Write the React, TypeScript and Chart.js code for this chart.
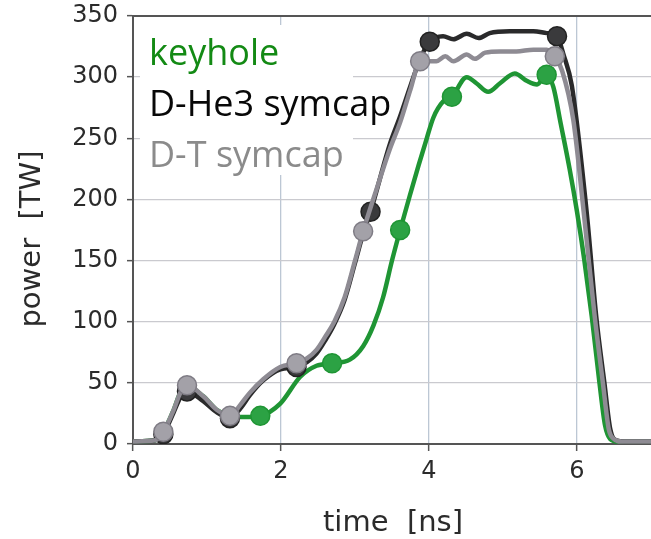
import React, { useEffect, useRef } from "react";
import { Chart, registerables } from "chart.js";

Chart.register(...registerables);

// Laser pulse shapes: time [ns] vs. power [TW]

const keyholeTime = [
  0, 0.3, 0.41, 0.55, 0.64, 0.73, 0.95, 1.13, 1.31, 1.5, 1.72, 1.99, 2.26, 2.48, 2.69, 2.93,
  3.11, 3.25, 3.38, 3.5, 3.61, 3.74, 3.86, 3.97, 4.06, 4.19, 4.31, 4.51, 4.64, 4.8, 4.96,
  5.16, 5.32, 5.46, 5.59, 5.68, 5.78, 5.9, 6.0, 6.1, 6.2, 6.3, 6.38, 6.45, 6.55, 7.0,
];
const keyholePower = [
  2, 3, 10, 28, 42, 47, 39, 28, 23, 22, 23, 33, 55, 64, 66, 69,
  80, 97, 120, 150, 175, 203, 228, 250, 267, 280, 284, 300, 295, 288, 295,
  303, 297, 294, 302, 292, 262, 225, 190, 150, 104, 52, 15, 4, 2, 2,
];
const keyholeMarkers = [1.72, 2.69, 3.61, 4.31, 5.59];

const dhe3Time = [
  0, 0.3, 0.41, 0.55, 0.64, 0.73, 0.95, 1.13, 1.31, 1.45, 1.58, 1.76, 1.99, 2.21, 2.35, 2.48,
  2.6, 2.72, 2.86, 3.0, 3.11, 3.21, 3.47, 3.61, 3.75, 3.88, 4.01, 4.19, 4.33, 4.51, 4.67,
  4.82, 5.09, 5.41, 5.59, 5.73, 5.82, 5.93, 6.13, 6.26, 6.37, 6.45, 6.53, 6.65, 7.0,
];
const dhe3Power = [
  2, 3, 8, 26, 38, 43, 35, 26, 21, 29, 40, 52, 61, 63, 67, 74,
  85, 98, 118, 148, 172, 190, 245, 268, 293, 315, 329, 333.5, 331, 335.5, 332,
  336, 337.5, 337.5, 336, 333.5, 318, 293, 190, 104, 50, 12, 3, 2, 2,
];
const dhe3Markers = [0.41, 0.73, 1.31, 2.21, 3.21, 4.01, 5.73];

const dtTime = [
  0, 0.3, 0.41, 0.55, 0.64, 0.73, 0.95, 1.13, 1.31, 1.45, 1.58, 1.76, 1.99, 2.21, 2.35, 2.48,
  2.6, 2.72, 2.86, 3.0, 3.11, 3.3, 3.47, 3.61, 3.75, 3.88, 4.1, 4.22, 4.33, 4.51, 4.62,
  4.76, 4.96, 5.18, 5.41, 5.59, 5.7, 5.8, 5.95, 6.09, 6.24, 6.35, 6.43, 6.5, 6.6, 7.0,
];
const dtPower = [
  2, 3, 10, 28, 42, 48, 39, 28, 23, 32, 42, 53, 63, 66, 70, 77,
  88, 100, 120, 150, 174, 210, 241, 263, 290, 313, 313, 317, 313, 318.5, 315,
  320, 321, 321, 322.5, 322.5, 317, 305, 265, 190, 104, 50, 12, 4, 2, 2,
];
const dtMarkers = [0.41, 0.73, 1.31, 2.21, 3.11, 3.88, 5.7];

const seriesNames = ["keyhole", "D-He3 symcap", "D-T symcap"];
const legendColors = ["#138a14", "#080808", "#8b8b8b"];

const timeRange = [0, 7];
const timeStep = 2;
const powerRange = [0, 350];
const powerStep = 50;

const xTitle = "time  [ns]";
const yTitle = "power  [TW]";

const toPoints = (t: number[], p: number[]) => t.map((x, i) => ({ x, y: p[i] }));

const markerRadius = (marks: number[], r: number) => (ctx: any) => {
  const raw = ctx.raw as { x: number } | undefined;
  return raw && marks.includes(raw.x) ? r : 0;
};

const tickFont = { family: "'DejaVu Sans', sans-serif", size: 24 };

const decorations = {
  id: "decorations",
  beforeDatasetsDraw(chart: any) {
    const { ctx, chartArea } = chart;
    // white box behind the series labels
    ctx.save();
    ctx.fillStyle = "#ffffff";
    ctx.fillRect(chartArea.left + 7, chartArea.top + 9, 213, 150);
    ctx.restore();
  },
  afterDraw(chart: any) {
    const { ctx, chartArea } = chart;
    ctx.save();
    // frame line along the top
    ctx.strokeStyle = "#555555";
    ctx.lineWidth = 2;
    ctx.beginPath();
    ctx.moveTo(chartArea.left, chartArea.top);
    ctx.lineTo(chartArea.right, chartArea.top);
    ctx.stroke();

    // series labels
    ctx.font = "36px 'Open Sans', sans-serif";
    ctx.textAlign = "left";
    ctx.textBaseline = "alphabetic";
    seriesNames.forEach((name, i) => {
      ctx.fillStyle = legendColors[i];
      ctx.fillText(name, chartArea.left + 16, chartArea.top + 49 + i * 51);
    });

    // axis titles
    ctx.fillStyle = "#2b2b2b";
    ctx.font = "29px 'DejaVu Sans', sans-serif";
    ctx.textAlign = "center";
    ctx.textBaseline = "middle";
    ctx.fillText(xTitle, (chartArea.left + chartArea.right) / 2 + 1, chartArea.bottom + 79);
    ctx.translate(32, (chartArea.top + chartArea.bottom) / 2 + 9);
    ctx.rotate(-Math.PI / 2);
    ctx.fillText(yTitle, 0, 0);
    ctx.restore();
  },
};

export default function App() {
  const canvasRef = useRef<HTMLCanvasElement | null>(null);

  useEffect(() => {
    if (!canvasRef.current) return;
    const chart = new Chart(canvasRef.current, {
      type: "line",
      data: {
        datasets: [
          {
            label: seriesNames[2],
            data: toPoints(dtTime, dtPower),
            borderColor: "#8e8b93",
            backgroundColor: "#a3a1a8",
            pointBorderColor: "#7f7c85",
            pointBorderWidth: 1.5,
            pointRadius: markerRadius(dtMarkers, 9.5),
            borderWidth: 4.5,
            cubicInterpolationMode: "monotone",
            order: 0,
          },
          {
            label: seriesNames[1],
            data: toPoints(dhe3Time, dhe3Power),
            borderColor: "#2a2a2b",
            backgroundColor: "#3a3a3c",
            pointBorderColor: "#222222",
            pointBorderWidth: 1.5,
            pointRadius: markerRadius(dhe3Markers, 9.5),
            borderWidth: 4.5,
            cubicInterpolationMode: "monotone",
            order: 1,
          },
          {
            label: seriesNames[0],
            data: toPoints(keyholeTime, keyholePower),
            borderColor: "#1f9534",
            backgroundColor: "#2ca244",
            pointBorderColor: "#1f9534",
            pointBorderWidth: 1.5,
            pointRadius: markerRadius(keyholeMarkers, 9.5),
            borderWidth: 4.5,
            cubicInterpolationMode: "monotone",
            order: 2,
          },
        ],
      },
      options: {
        responsive: false,
        animation: false,
        events: [],
        layout: { padding: { top: 16, right: 0, left: 0, bottom: 0 } },
        plugins: {
          legend: { display: false },
          tooltip: { enabled: false },
          title: { display: false },
        },
        scales: {
          x: {
            type: "linear",
            min: timeRange[0],
            max: timeRange[1],
            afterFit: (scale: any) => {
              scale.height = 95;
              scale.paddingLeft = 0;
              scale.paddingRight = 0;
            },
            ticks: {
              stepSize: timeStep,
              includeBounds: false,
              font: tickFont,
              color: "#2b2b2b",
              padding: 6,
              maxRotation: 0,
            },
            grid: {
              color: "#bcc7d4",
              lineWidth: 1.3,
              tickLength: 7,
              tickColor: "#555555",
              tickWidth: 1.5,
            },
            border: { display: true, color: "#555555", width: 2 },
          },
          y: {
            type: "linear",
            min: powerRange[0],
            max: powerRange[1],
            afterFit: (scale: any) => {
              scale.width = 133;
              scale.paddingTop = 0;
              scale.paddingBottom = 0;
            },
            ticks: {
              stepSize: powerStep,
              font: tickFont,
              color: "#2b2b2b",
              padding: 9,
            },
            grid: {
              color: "#cacacf",
              lineWidth: 1.3,
              tickLength: 6,
              tickColor: "#555555",
              tickWidth: 1.5,
            },
            border: { display: true, color: "#555555", width: 2 },
          },
        },
      },
      plugins: [decorations],
    });
    return () => chart.destroy();
  }, []);

  return (
    <div style={{ position: "absolute", left: 0, top: 0, width: 651, height: 539, background: "#ffffff" }}>
      <canvas ref={canvasRef} width={651} height={539} />
    </div>
  );
}
